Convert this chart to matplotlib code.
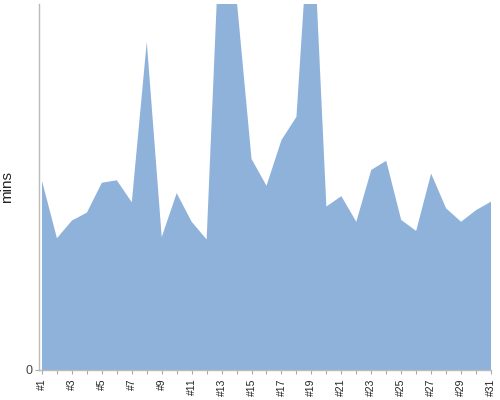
import matplotlib

matplotlib.use("Agg")
import matplotlib.pyplot as plt

# Minutes per day (y-axis tops out at 60)
days = [f"#{i}" for i in range(1, 32)]
minutes = [
    31.0, 21.6, 24.5, 25.8, 30.7, 31.1, 27.5, 53.8, 21.8, 29.0,
    24.3, 21.4, 79.2, 61.0, 34.6, 30.2, 37.7, 41.5, 79.5, 26.8,
    28.5, 24.3, 32.8, 34.3, 24.6, 22.8, 32.2, 26.5, 24.3, 26.2,
    27.6,
]
y_max = 60

plt.rcParams["font.family"] = ["Liberation Sans", "DejaVu Sans"]

fig = plt.figure(figsize=(5, 4), dpi=100)
ax = fig.add_axes([39 / 500, 30 / 400, 452 / 500, 366 / 400])

x = list(range(len(days)))
ax.fill_between(x, 0, minutes, color="#8fb2da", linewidth=0)

ax.set_xlim(-0.2, len(days) - 1)
ax.set_ylim(0, y_max)

ax.set_xticks(x)
ax.set_xticklabels([d if i % 2 == 0 else "" for i, d in enumerate(days)],
                   rotation=90, fontsize=7.5, color="#222222")
ax.set_yticks([0])
ax.set_yticklabels(["0"], fontsize=9, color="#444444")
ax.tick_params(axis="x", length=3, width=0.8, color="#aaaaaa", pad=3)
ax.tick_params(axis="y", length=3, width=0.8, color="#aaaaaa", pad=2)

for side in ("top", "right"):
    ax.spines[side].set_visible(False)
for side in ("left", "bottom"):
    ax.spines[side].set_color("#bbbbbb")
    ax.spines[side].set_linewidth(1.0)

ax.set_ylabel("mins", fontsize=11, color="#222222")
ax.yaxis.set_label_coords(-0.055, 0.5)

fig.savefig("out.png", dpi=100)
plt.close(fig)
